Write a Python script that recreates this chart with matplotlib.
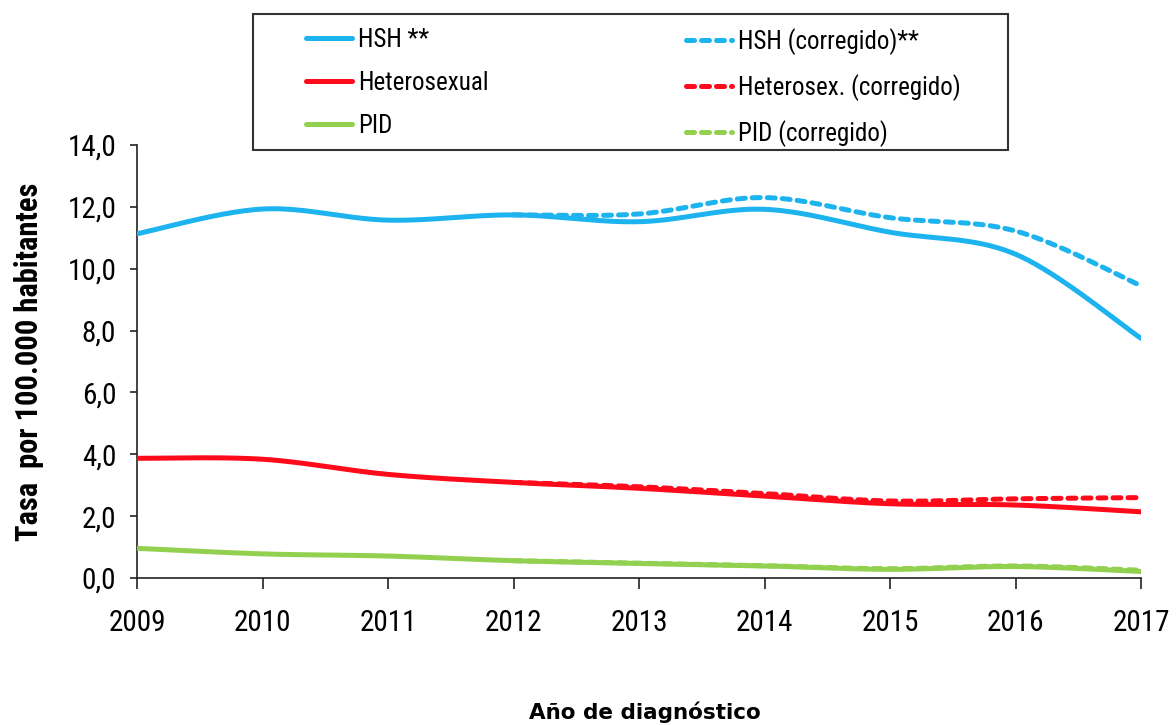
import numpy as np
import matplotlib
matplotlib.use("Agg")
import matplotlib.pyplot as plt
from matplotlib.patches import Rectangle
from matplotlib.ticker import FuncFormatter

# Data (tasa por 100.000 habitantes)
years = [2009, 2010, 2011, 2012, 2013, 2014, 2015, 2016, 2017]
hsh = [11.13, 11.93, 11.57, 11.74, 11.52, 11.92, 11.18, 10.47, 7.75]
hetero = [3.87, 3.84, 3.35, 3.09, 2.90, 2.65, 2.40, 2.36, 2.14]
pid = [0.96, 0.78, 0.71, 0.56, 0.47, 0.39, 0.28, 0.37, 0.21]

years_corr = [2012, 2013, 2014, 2015, 2016, 2017]
hsh_corr = [11.74, 11.77, 12.30, 11.65, 11.22, 9.45]
hetero_corr = [3.09, 2.95, 2.73, 2.49, 2.56, 2.60]
pid_corr = [0.56, 0.48, 0.40, 0.30, 0.39, 0.25]

C_BLUE = '#1cb3ef'
C_RED = '#ff0a1a'
C_GREEN = '#92d050'

NARROW = ['Roboto Condensed', 'DejaVu Sans']


def smooth(x, y, n=40):
    """Catmull-Rom curve through the points (like Excel's smoothed line)."""
    p = np.column_stack([np.asarray(x, float), np.asarray(y, float)])
    p = np.vstack([p[0], p, p[-1]])
    out = []
    t = np.linspace(0, 1, n)[:, None]
    for i in range(1, len(p) - 2):
        p0, p1, p2, p3 = p[i - 1], p[i], p[i + 1], p[i + 2]
        seg = 0.5 * (2 * p1 + (-p0 + p2) * t + (2 * p0 - 5 * p1 + 4 * p2 - p3) * t ** 2
                     + (-p0 + 3 * p1 - 3 * p2 + p3) * t ** 3)
        out.append(seg if i == 1 else seg[1:])
    out = np.vstack(out)
    return out[:, 0], out[:, 1]


fig = plt.figure(figsize=(11.76, 7.25), dpi=100)
ax = fig.add_axes([137 / 1176, 1 - 578 / 725, 1004 / 1176, 433 / 725])

lw = 3.6
dash = (1.6, 1.4)
series = [
    (years, hsh, C_BLUE, '-', 'HSH **'),
    (years, hetero, C_RED, '-', 'Heterosexual'),
    (years, pid, C_GREEN, '-', 'PID'),
    (years_corr, hsh_corr, C_BLUE, '--', 'HSH (corregido)**'),
    (years_corr, hetero_corr, C_RED, '--', 'Heterosex. (corregido)'),
    (years_corr, pid_corr, C_GREEN, '--', 'PID (corregido)'),
]
handles = []
for xs, ys, col, ls, lab in series:
    sx, sy = smooth(xs, ys)
    if ls == '-':
        ln, = ax.plot(sx, sy, color=col, lw=lw, solid_capstyle='round', zorder=3, label=lab)
    else:
        ln, = ax.plot(sx, sy, color=col, lw=lw, dashes=dash, dash_capstyle='round', zorder=2, label=lab)
    handles.append(ln)

ax.set_xlim(2009, 2017)
ax.set_ylim(0, 14)
ax.set_xticks(years)
ax.set_yticks(np.arange(0, 15, 2))
ax.yaxis.set_major_formatter(FuncFormatter(lambda v, p: f"{v:.1f}".replace('.', ',')))

for s in ['top', 'right']:
    ax.spines[s].set_visible(False)
for s in ['left', 'bottom']:
    ax.spines[s].set_linewidth(1.2)
    ax.spines[s].set_color('#222222')
ax.tick_params(axis='x', direction='out', length=8, width=1.2, pad=14, colors='#222222')
ax.tick_params(axis='y', direction='out', length=5, width=1.2, pad=10, colors='#222222')
for lbl in ax.get_xticklabels() + ax.get_yticklabels():
    lbl.set_family(NARROW)
    lbl.set_fontsize(21)
    lbl.set_color('black')

ax.set_ylabel('Tasa  por 100.000 habitantes', family=NARROW, fontsize=22, fontweight='bold')
ax.yaxis.set_label_coords(-0.093, 0.5)

fig.text(645 / 1176, 1 - 712 / 725, 'Año de diagnóstico', family='DejaVu Sans',
         fontsize=15.5, fontweight='bold', ha='center', va='center')

# Legend: frame plus two columns
fig.patches.append(Rectangle((253 / 1176, 1 - 150 / 725), 755 / 1176, 136 / 725,
                             transform=fig.transFigure, fill=False, edgecolor='#333333',
                             linewidth=1.5, zorder=5))
leg_kw = dict(frameon=False, handlelength=1.85, handletextpad=0.25, borderaxespad=0,
              labelspacing=0.76, borderpad=0, prop={'family': NARROW, 'size': 18})
leg1 = fig.legend(handles=handles[:3], loc='upper left',
                  bbox_to_anchor=(306 / 1176, 1 - 28 / 725), **leg_kw)
leg2 = fig.legend(handles=handles[3:], loc='upper left',
                  bbox_to_anchor=(686 / 1176, 1 - 28 / 725), **leg_kw)

fig.savefig('out.png', dpi=100)
